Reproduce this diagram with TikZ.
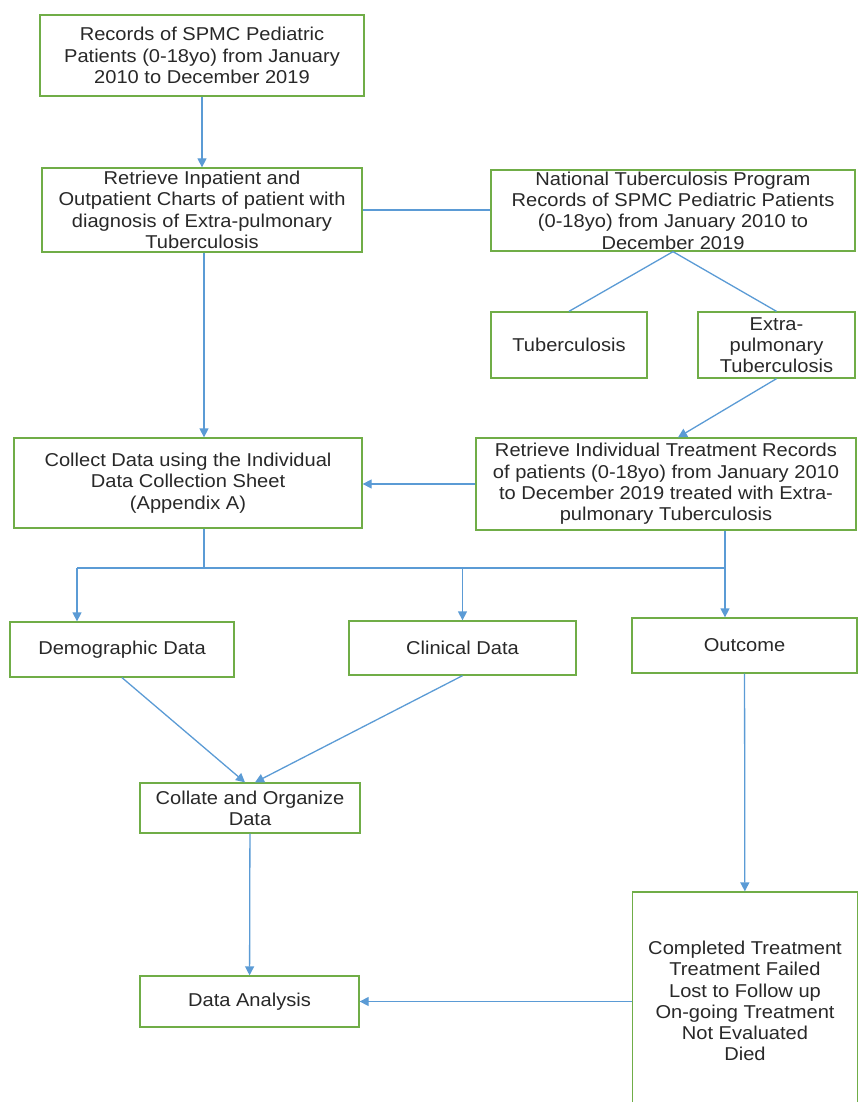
\documentclass[tikz,border=0pt]{standalone}
\usepackage{fontspec}
\setmainfont{Liberation Sans}[FakeStretch=1.08]
\usetikzlibrary{arrows.meta}

\definecolor{boxgreen}{RGB}{112,173,71}
\definecolor{linkblue}{RGB}{91,155,213}
\definecolor{textgray}{RGB}{40,40,40}

\begin{document}
\begin{tikzpicture}[x=1pt,y=-1pt,
  flowbox/.style={draw=boxgreen, line width=1.3pt, align=center, inner sep=0pt,
    text=textgray, font=\fontsize{18.6}{21.3}\selectfont},
  joinline/.style={draw=linkblue, line width=1.3pt},
  arrowline/.style={joinline, -{Triangle[width=9pt,length=9pt]}}]

\clip (0,0) rectangle (858,1102);

% upper boxes
\node[flowbox, minimum width=324, minimum height=81] (rec) at (202,55.5)
  {Records of SPMC Pediatric\\Patients (0-18yo) from January\\2010 to December 2019};
\node[flowbox, minimum width=320, minimum height=84] (inout) at (202,210)
  {Retrieve Inpatient and\\Outpatient Charts of patient with\\diagnosis of Extra-pulmonary\\Tuberculosis};
\node[flowbox, minimum width=364, minimum height=81] (ntp) at (673,210.5)
  {National Tuberculosis Program\\Records of SPMC Pediatric Patients\\(0-18yo) from January 2010 to\\December 2019};
\node[flowbox, minimum width=156, minimum height=66] (tb) at (569,345) {Tuberculosis};
\node[flowbox, minimum width=157, minimum height=66] (eptb) at (776.5,345)
  {Extra-\\pulmonary\\Tuberculosis};
\node[flowbox, minimum width=380, minimum height=92] (indiv) at (666,484)
  {Retrieve Individual Treatment Records\\of patients (0-18yo) from January 2010\\to December 2019 treated with Extra-\\pulmonary Tuberculosis};
\node[flowbox, minimum width=348, minimum height=90] (collect) at (188,483)
  {Collect Data using the Individual\\Data Collection Sheet\\(Appendix A)};

% data boxes
\node[flowbox, minimum width=224, minimum height=55] (demo) at (122,649.5) {Demographic Data};
\node[flowbox, minimum width=227, minimum height=54] (clin) at (462.5,648) {Clinical Data};
\node[flowbox, minimum width=225, minimum height=55] (outc) at (744.5,645.5) {Outcome};
\node[flowbox, minimum width=220, minimum height=50] (collate) at (250,808)
  {Collate and Organize\\Data};
\node[flowbox, minimum width=219, minimum height=51] (analysis) at (249.5,1001.5) {Data Analysis};
\node[flowbox, minimum width=225, minimum height=218] (outlist) at (745,1001)
  {Completed Treatment\\Treatment Failed\\Lost to Follow up\\On-going Treatment\\Not Evaluated\\Died};

% split line
\coordinate (junc) at (204,568);
\coordinate (busl) at (77,568);
\coordinate (busr) at (725,568);

% connectors
\draw[arrowline] (rec) -- (inout);
\draw[joinline] (inout.east) -- (inout.east -| ntp.west);
\draw[joinline] (ntp.south) -- (tb.north);
\draw[joinline] (ntp.south) -- (eptb.north);
\draw[arrowline] (eptb.south) -- ([xshift=12]indiv.north);
\draw[arrowline] (junc |- inout.south) -- (junc |- collect.north);
\draw[arrowline] (indiv.west) -- (indiv.west -| collect.east);
\draw[joinline] (junc |- collect.south) -- (junc);
\draw[joinline] (busl) -- (busr);
\draw[joinline] (busr |- indiv.south) -- (busr);
\draw[arrowline] (busl) -- (busl |- demo.north);
\draw[arrowline] (clin.north |- busl) -- (clin.north);
\draw[arrowline] (busr) -- (busr |- outc.north);
\draw[arrowline] (demo.south) -- ([xshift=-5]collate.north);
\draw[arrowline] (clin.south) -- ([xshift=5]collate.north);
\draw[arrowline] (collate) -- (analysis);
\draw[arrowline] (outc) -- (outlist);
\draw[arrowline] (analysis.east -| outlist.west) -- (analysis.east);

\end{tikzpicture}
\end{document}
